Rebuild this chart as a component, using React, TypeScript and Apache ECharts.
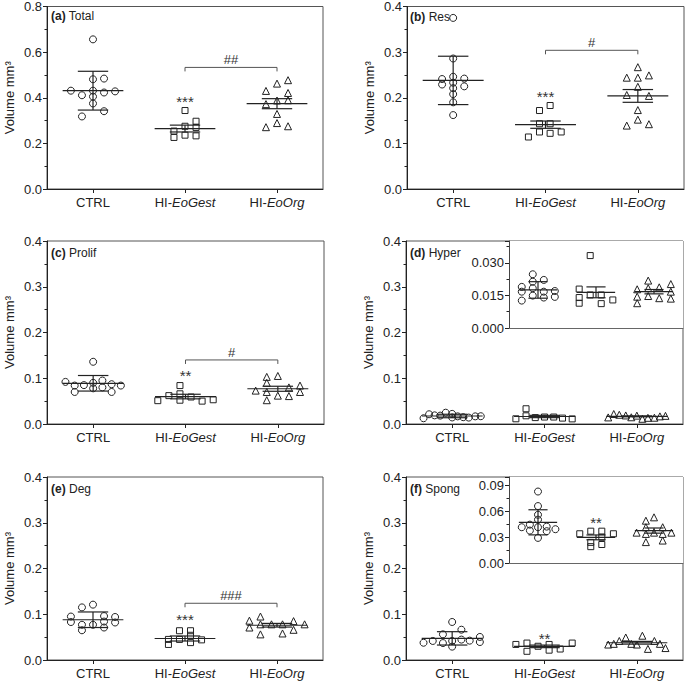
import React, { useEffect, useRef } from "react";
import * as echarts from "echarts";

const FONT = "'Liberation Sans', Arial, Helvetica, sans-serif";
const categories = ["CTRL", "HI-EoGest", "HI-EoOrg"];

// ---------- (a) Total ----------
const aCtrlY = [0.656, 0.481, 0.484, 0.431, 0.431, 0.423, 0.428, 0.411, 0.405, 0.375, 0.341, 0.318];
const aCtrlX = [0, 0, 0.12, -0.24, 0, 0.12, 0.24, -0.12, 0, 0, 0.12, -0.12];
const aGestY = [0.344, 0.275, 0.297, 0.27, 0.254, 0.226, 0.236, 0.233];
const aGestX = [0, 0, 0.12, 0.12, -0.12, -0.12, 0, 0.12];
const aOrgY = [0.462, 0.477, 0.43, 0.421, 0.388, 0.389, 0.372, 0.329, 0.289, 0.271, 0.275];
const aOrgX = [0, 0.12, -0.12, 0.12, 0, 0.12, -0.12, 0, 0, -0.12, 0.12];
const aMean = [0.431, 0.265, 0.374];
const aErr = [0.085, 0.015, 0.022];
const aStars = [[1, 0.392]];
const aStarText = ["***"];
const aBrackets = [[1, 2, 0.533]];
const aBracketText = ["##"];

// ---------- (b) Res ----------
const bCtrlY = [0.375, 0.286, 0.246, 0.233, 0.221, 0.208, 0.19, 0.162, 0.241, 0.229, 0.242, 0.225];
const bCtrlX = [0, 0, 0, 0, 0, 0, 0, 0, -0.12, -0.12, 0.12, 0.12];
const bGestY = [0.183, 0.172, 0.143, 0.143, 0.125, 0.122, 0.125, 0.114];
const bGestX = [0.05, -0.065, -0.065, 0.05, -0.065, 0.05, 0.17, -0.185];
const bOrgY = [0.267, 0.244, 0.244, 0.249, 0.224, 0.206, 0.204, 0.173, 0.139, 0.152, 0.142];
const bOrgX = [0, -0.12, 0, 0.12, 0, -0.12, 0.12, 0, -0.12, 0, 0.12];
const bMean = [0.238, 0.141, 0.204];
const bErr = [0.053, 0.008, 0.014];
const bStars = [[1, 0.207]];
const bStarText = ["***"];
const bBrackets = [[1, 2, 0.304]];
const bBracketText = ["#"];

// ---------- (c) Prolif ----------
const cCtrlY = [0.136, 0.092, 0.084, 0.085, 0.09, 0.095, 0.087, 0.084, 0.07, 0.078, 0.08, 0.07];
const cCtrlX = [0, -0.3, -0.2, -0.1, 0, 0.1, 0.2, 0.3, -0.2, 0, 0.1, 0.2];
const cGestY = [0.084, 0.062, 0.066, 0.059, 0.052, 0.051, 0.05, 0.053];
const cGestX = [-0.06, -0.18, -0.06, 0.06, -0.06, -0.3, 0.18, 0.3];
const cOrgY = [0.103, 0.105, 0.09, 0.084, 0.08, 0.073, 0.07, 0.07, 0.062, 0.061, 0.052];
const cOrgX = [-0.12, 0, -0.12, 0.24, 0.12, -0.24, -0.12, 0.24, 0, 0.12, -0.12];
const cMean = [0.089, 0.06, 0.077];
const cErr = [0.017, 0.005, 0.0055];
const cStars = [[1, 0.11]];
const cStarText = ["**"];
const cBrackets = [[1, 2, 0.14]];
const cBracketText = ["#"];

// ---------- (d) Hyper ----------
const dCtrlY = [0.0247, 0.0213, 0.0221, 0.0189, 0.0183, 0.0167, 0.0167, 0.017, 0.0149, 0.014, 0.0143, 0.0126];
const dCtrlX = [-0.07, -0.25, 0, -0.19, -0.13, 0.06, 0.25, 0.31, 0.12, 0.18, 0, -0.31];
const dCtrlXInset = [-0.09, -0.09, 0.1, -0.28, -0.09, -0.28, 0.1, 0.29, -0.09, 0.1, 0.29, -0.28];
const dGestY = [0.0333, 0.0179, 0.014, 0.0114, 0.0152, 0.0152, 0.0112, 0.0129];
const dGestX = [-0.2, -0.2, -0.1, -0.31, 0, 0.1, 0.3, 0.195];
const dGestXInset = [-0.1, -0.29, -0.29, -0.29, -0.1, 0.09, 0.09, 0.29];
const dOrgY = [0.0218, 0.0178, 0.0183, 0.0187, 0.0202, 0.0144, 0.0147, 0.0167, 0.0114, 0.0137, 0.0135];
const dOrgX = [-0.25, 0.31, 0, -0.12, -0.19, -0.31, -0.06, 0.25, 0.06, 0.19, 0.12];
const dOrgXInset = [-0.1, -0.29, -0.1, 0.09, 0.29, -0.29, -0.1, 0.29, -0.29, 0.09, 0.29];
const dMean = [0.0175, 0.0164, 0.0167];
const dErr = [0.0038, 0.0025, 0.001];

// ---------- (e) Deg ----------
const eCtrlY = [0.095, 0.083, 0.115, 0.077, 0.065, 0.121, 0.077, 0.096, 0.084, 0.071, 0.094, 0.082];
const eCtrlX = [-0.24, -0.24, -0.12, -0.12, -0.12, 0, 0, 0.12, 0.12, 0.12, 0.24, 0.24];
const eGestY = [0.064, 0.064, 0.054, 0.045, 0.045, 0.044, 0.038, 0.034];
const eGestX = [-0.06, 0.06, 0.06, -0.18, -0.06, 0.18, 0.06, -0.18];
const eOrgY = [0.086, 0.071, 0.095, 0.078, 0.056, 0.078, 0.078, 0.058, 0.085, 0.066, 0.078];
const eOrgX = [-0.3, -0.3, -0.18, -0.18, -0.18, -0.06, 0.06, 0.06, 0.18, 0.18, 0.3];
const eMean = [0.088, 0.047, 0.076];
const eErr = [0.017, 0.0055, 0.004];
const eStars = [[1, 0.093]];
const eStarText = ["***"];
const eBrackets = [[1, 2, 0.124]];
const eBracketText = ["###"];

// ---------- (f) Spong ----------
const fCtrlY = [0.0831, 0.0662, 0.0561, 0.0504, 0.0416, 0.0446, 0.0377, 0.0416, 0.0423, 0.037, 0.0393, 0.0292];
const fCtrlX = [0, 0.1, -0.1, 0.3, -0.21, 0.1, -0.31, 0, 0.19, -0.1, 0.3, 0];
const fCtrlXInset = [0, 0, 0, 0, -0.28, -0.14, -0.14, 0, 0.15, 0.15, 0.3, 0];
const fGestY = [0.034, 0.037, 0.037, 0.034, 0.03, 0.024, 0.0215, 0.019];
const fGestX = [-0.31, -0.19, 0.3, 0.05, -0.07, 0.17, 0.05, -0.19];
const fGestXInset = [-0.28, -0.09, 0.1, 0.3, 0.1, -0.09, 0.1, -0.09];
const fOrgY = [0.0492, 0.0531, 0.0416, 0.0353, 0.0338, 0.0353, 0.0416, 0.0338, 0.0353, 0.0243, 0.0261];
const fOrgX = [-0.12, 0.06, -0.19, -0.25, -0.31, -0.06, 0.19, 0, 0.25, 0.12, 0.31];
const fOrgXInset = [-0.14, 0, -0.14, -0.3, -0.14, 0, 0.15, 0.15, 0.3, -0.14, 0.15];
const fMean = [0.0473, 0.0298, 0.0377];
const fErr = [0.0146, 0.0028, 0.003];
const fStars = [[1, 0.051]];
const fStarText = ["**"];
const fInsetStars = [[1, 0.05]];
const fInsetStarText = ["**"];

const yTicksMain = { max: 0.4, interval: 0.1, decimals: 1 };
const yTicksA = { max: 0.8, interval: 0.2, decimals: 1 };
const yTicksInsetD = { max: 0.04, interval: 0.015, decimals: 3 };
const yTicksInsetF = { max: 0.1, interval: 0.03, decimals: 2 };

type Panel = {
  rect: { left: number; top: number; width: number; height: number };
  ticks: { max: number; interval: number; decimals: number };
  groups: { y: number[]; x: number[] }[];
  mean: number[];
  err: number[];
  stars?: number[][];
  starText?: string[];
  brackets?: number[][];
  bracketText?: string[];
  inset?: boolean;
  title?: { text: string; left: number; top: number };
};

const panels: Panel[] = [
  {
    rect: { left: 47, top: 6, width: 276, height: 183 },
    ticks: yTicksA,
    groups: [{ y: aCtrlY, x: aCtrlX }, { y: aGestY, x: aGestX }, { y: aOrgY, x: aOrgX }],
    mean: aMean, err: aErr, stars: aStars, starText: aStarText, brackets: aBrackets, bracketText: aBracketText,
    title: { text: "{b|(a)} Total", left: 51, top: 10 },
  },
  {
    rect: { left: 407, top: 6, width: 277, height: 183 },
    ticks: yTicksMain,
    groups: [{ y: bCtrlY, x: bCtrlX }, { y: bGestY, x: bGestX }, { y: bOrgY, x: bOrgX }],
    mean: bMean, err: bErr, stars: bStars, starText: bStarText, brackets: bBrackets, bracketText: bBracketText,
    title: { text: "{b|(b)} Res", left: 410, top: 11 },
  },
  {
    rect: { left: 47, top: 241, width: 277, height: 183 },
    ticks: yTicksMain,
    groups: [{ y: cCtrlY, x: cCtrlX }, { y: cGestY, x: cGestX }, { y: cOrgY, x: cOrgX }],
    mean: cMean, err: cErr, stars: cStars, starText: cStarText, brackets: cBrackets, bracketText: cBracketText,
    title: { text: "{b|(c)} Prolif", left: 51, top: 247 },
  },
  {
    rect: { left: 406, top: 241, width: 277, height: 183 },
    ticks: yTicksMain,
    groups: [{ y: dCtrlY, x: dCtrlX }, { y: dGestY, x: dGestX }, { y: dOrgY, x: dOrgX }],
    mean: dMean, err: dErr,
    title: { text: "{b|(d)} Hyper", left: 410, top: 247 },
  },
  {
    rect: { left: 509, top: 241, width: 174, height: 87 },
    ticks: yTicksInsetD,
    groups: [{ y: dCtrlY, x: dCtrlXInset }, { y: dGestY, x: dGestXInset }, { y: dOrgY, x: dOrgXInset }],
    mean: dMean, err: dErr, inset: true,
  },
  {
    rect: { left: 47, top: 477, width: 276, height: 183 },
    ticks: yTicksMain,
    groups: [{ y: eCtrlY, x: eCtrlX }, { y: eGestY, x: eGestX }, { y: eOrgY, x: eOrgX }],
    mean: eMean, err: eErr, stars: eStars, starText: eStarText, brackets: eBrackets, bracketText: eBracketText,
    title: { text: "{b|(e)} Deg", left: 51, top: 483 },
  },
  {
    rect: { left: 406, top: 477, width: 277, height: 183 },
    ticks: yTicksMain,
    groups: [{ y: fCtrlY, x: fCtrlX }, { y: fGestY, x: fGestX }, { y: fOrgY, x: fOrgX }],
    mean: fMean, err: fErr, stars: fStars, starText: fStarText,
    title: { text: "{b|(f)} Spong", left: 410, top: 483 },
  },
  {
    rect: { left: 509, top: 477, width: 174, height: 86 },
    ticks: yTicksInsetF,
    groups: [{ y: fCtrlY, x: fCtrlXInset }, { y: fGestY, x: fGestXInset }, { y: fOrgY, x: fOrgXInset }],
    mean: fMean, err: fErr, stars: fInsetStars, starText: fInsetStarText, inset: true,
  },
];

const symbols = ["circle", "rect", "triangle"];
const symbolSizes = [7, 6, 7];
const INK = "#222";

function buildOption() {
  const grid: any[] = [];
  const xAxis: any[] = [];
  const yAxis: any[] = [];
  const series: any[] = [];
  const title: any[] = [];

  panels.forEach((p, g) => {
    grid.push({
      ...p.rect,
      containLabel: false,
      show: true,
      backgroundColor: "#fff",
      borderColor: p.inset ? "transparent" : "#555",
      borderWidth: p.inset ? 0 : 1,
      z: p.inset ? 5 : 0,
    });
    xAxis.push({
      type: "category",
      gridIndex: g,
      data: categories,
      boundaryGap: true,
      axisLine: { onZero: false, lineStyle: { color: p.inset ? "#666" : INK, width: 1 } },
      axisTick: { show: !p.inset, alignWithLabel: true, length: 4, lineStyle: { color: INK } },
      axisLabel: {
        show: !p.inset,
        interval: 0,
        margin: 7,
        fontSize: 13,
        fontFamily: FONT,
        color: INK,
        formatter: (v: string) => (v.startsWith("HI-") ? `HI-{i|${v.slice(3)}}` : v),
        rich: { i: { fontStyle: "italic", fontSize: 13, fontFamily: FONT, color: INK } },
      },
      splitLine: { show: false },
      z: p.inset ? 6 : 0,
    });
    xAxis.push({ type: "value", gridIndex: g, min: -0.5, max: 2.5, show: false });
    const t = p.ticks;
    yAxis.push({
      type: "value",
      gridIndex: g,
      min: 0,
      max: t.max,
      interval: t.interval,
      axisLine: { show: true, onZero: false, lineStyle: { color: p.inset ? "#444" : INK, width: 1 } },
      axisTick: { show: true, length: 4, lineStyle: { color: INK } },
      minorTick: { show: true, splitNumber: 2, length: 2.5, lineStyle: { color: INK } },
      splitLine: { show: false },
      axisLabel: {
        margin: 5,
        fontSize: 13,
        fontFamily: FONT,
        color: INK,
        showMaxLabel: true,
        formatter: (v: number) => {
          const k = v / t.interval;
          if (Math.abs(k - Math.round(k)) > 1e-6) return "";
          return v.toFixed(t.decimals);
        },
      },
      name: p.inset ? "" : "Volume mm\u00B3",
      nameLocation: "middle",
      nameGap: 31,
      nameTextStyle: { fontSize: 13, fontFamily: FONT, color: INK },
      z: p.inset ? 6 : 0,
    });
    if (p.title) {
      title.push({
        text: p.title.text,
        left: p.title.left,
        top: p.title.top,
        padding: 0,
        textStyle: {
          fontSize: 12,
          fontWeight: "normal",
          fontFamily: FONT,
          color: INK,
          rich: { b: { fontWeight: "bold", fontSize: 12, fontFamily: FONT, color: INK } },
        },
      });
    }
    const zBase = p.inset ? 10 : 2;
    p.groups.forEach((grp, ci) => {
      series.push({
        type: "scatter",
        xAxisIndex: 2 * g + 1,
        yAxisIndex: g,
        symbol: symbols[ci],
        symbolSize: symbolSizes[ci],
        silent: true,
        z: zBase,
        itemStyle: { color: "rgba(0,0,0,0)", borderColor: INK, borderWidth: 1, opacity: 1 },
        data: grp.y.map((y, i) => [ci + grp.x[i], y]),
      });
    });
    series.push({
      type: "custom",
      xAxisIndex: 2 * g + 1,
      yAxisIndex: g,
      silent: true,
      z: zBase + 1,
      data: p.mean.map((m, i) => [i, m, p.err[i]]),
      renderItem: (params: any, api: any) => {
        const c = api.value(0);
        const m = api.value(1);
        const e = api.value(2);
        const pm = api.coord([c, m]);
        const pt = api.coord([c, m + e]);
        const pb = api.coord([c, m - e]);
        const bw = api.size([1, 0])[0];
        const half = bw * 0.33;
        const cap = bw * 0.165;
        const st = { stroke: INK, lineWidth: 1.2 };
        return {
          type: "group",
          children: [
            { type: "line", shape: { x1: pm[0] - half, y1: pm[1], x2: pm[0] + half, y2: pm[1] }, style: st },
            { type: "line", shape: { x1: pm[0], y1: pt[1], x2: pm[0], y2: pb[1] }, style: st },
            { type: "line", shape: { x1: pm[0] - cap, y1: pt[1], x2: pm[0] + cap, y2: pt[1] }, style: st },
            { type: "line", shape: { x1: pm[0] - cap, y1: pb[1], x2: pm[0] + cap, y2: pb[1] }, style: st },
          ],
        };
      },
    });
    if (p.stars) {
      const txt = p.starText || [];
      series.push({
        type: "custom",
        xAxisIndex: 2 * g + 1,
        yAxisIndex: g,
        silent: true,
        z: zBase + 2,
        data: p.stars,
        renderItem: (params: any, api: any) => {
          const pt = api.coord([api.value(0), api.value(1)]);
          return {
            type: "text",
            style: {
              text: txt[params.dataIndex],
              x: pt[0],
              y: pt[1] + 2,
              align: "center",
              verticalAlign: "middle",
              fill: "#333",
              fontSize: 15,
              fontFamily: FONT,
            },
          };
        },
      });
    }
    if (p.brackets) {
      const txt = p.bracketText || [];
      series.push({
        type: "custom",
        xAxisIndex: 2 * g + 1,
        yAxisIndex: g,
        silent: true,
        z: zBase + 2,
        data: p.brackets,
        renderItem: (params: any, api: any) => {
          const y = api.value(2);
          const p1 = api.coord([api.value(0), y]);
          const p2 = api.coord([api.value(1), y]);
          return {
            type: "group",
            children: [
              {
                type: "polyline",
                shape: { points: [[p1[0], p1[1] + 4], [p1[0], p1[1]], [p2[0], p2[1]], [p2[0], p2[1] + 4]] },
                style: { stroke: "#555", fill: "none", lineWidth: 1 },
              },
              {
                type: "text",
                style: {
                  text: txt[params.dataIndex],
                  x: (p1[0] + p2[0]) / 2,
                  y: p1[1] - 1,
                  align: "center",
                  verticalAlign: "bottom",
                  fill: "#333",
                  fontSize: 13,
                  fontFamily: FONT,
                },
              },
            ],
          };
        },
      });
    }
  });

  return {
    animation: false,
    backgroundColor: "#fff",
    textStyle: { fontFamily: FONT },
    title,
    grid,
    xAxis,
    yAxis,
    series,
  };
}

export default function App() {
  const ref = useRef<HTMLDivElement>(null);
  useEffect(() => {
    document.body.style.margin = "0";
    if (!ref.current) return;
    const chart = echarts.init(ref.current, undefined, { renderer: "svg" });
    chart.setOption(buildOption() as any);
    return () => chart.dispose();
  }, []);
  return <div ref={ref} style={{ width: 685, height: 681 }} />;
}
